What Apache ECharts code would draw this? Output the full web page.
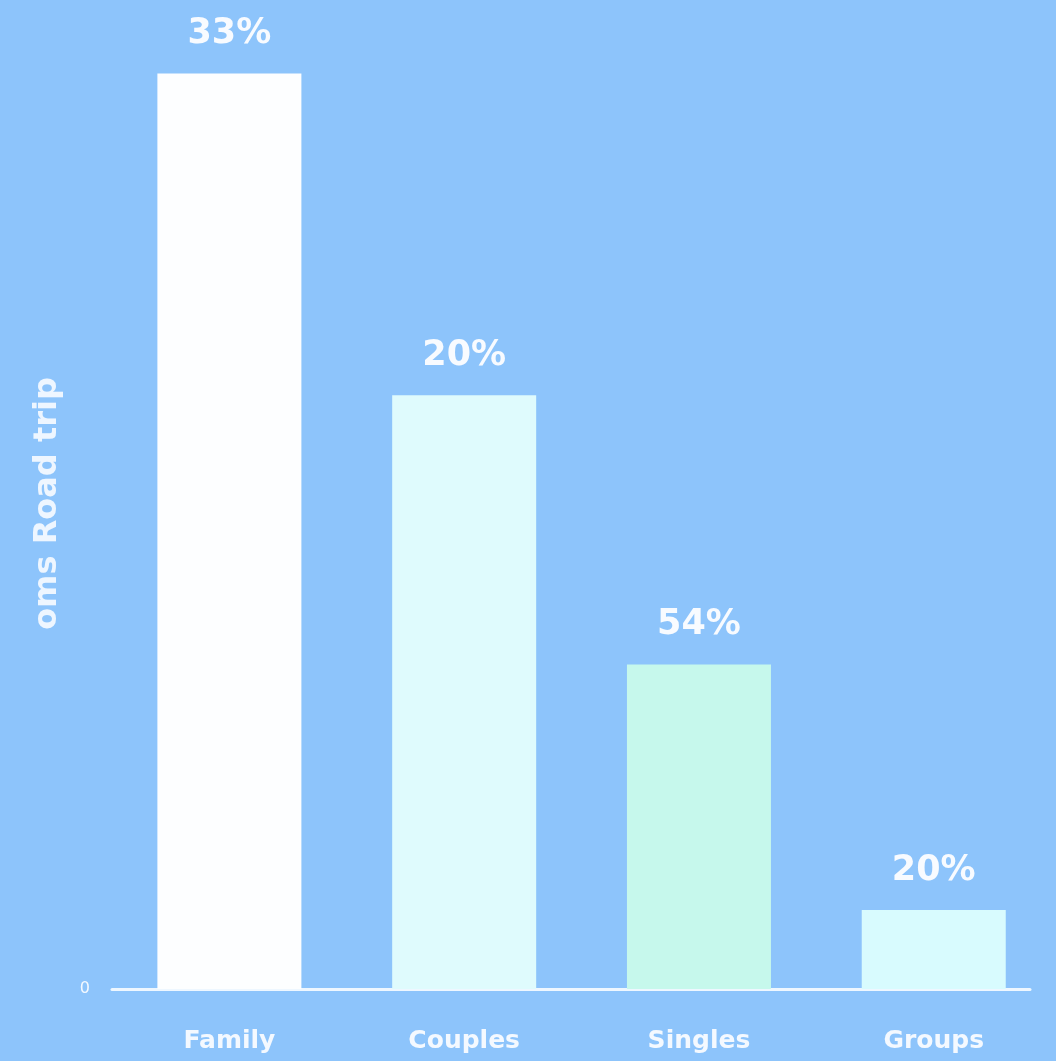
<!DOCTYPE html>
<html>
<head>
<meta charset="utf-8">
<script src="https://cdn.jsdelivr.net/npm/echarts@6/dist/echarts.min.js"></script>
<style>
html,body{margin:0;padding:0;background:#8dc4fb;}
#chart{width:1056px;height:1061px;}
</style>
</head>
<body>
<div id="chart"></div>
<script>
const categories = ["Family", "Couples", "Singles", "Groups"];
const barValues = [33, 21.4, 11.7, 2.85];
const barLabels = ["33%", "20%", "54%", "20%"];
const barColors = ["#fdfeff", "#dffbfd", "#c6f8ec", "#d8fbfe"];
const yAxisName = "oms Road trip";
const yTickValues = [0];

const FONT = "'DejaVu Sans', Verdana, sans-serif";
const chart = echarts.init(document.getElementById('chart'));
chart.setOption({
  backgroundColor: '#8dc4fb',
  animation: false,
  grid: { left: 112, right: 26, top: 18, bottom: 72 },
  xAxis: {
    type: 'value',
    min: -0.5,
    max: 3.41,
    axisLine: { show: true, onZero: false, lineStyle: { color: '#eef7ff', width: 3 } },
    axisTick: { show: false },
    splitLine: { show: false },
    axisLabel: {
      customValues: [0, 1, 2, 3],
      formatter: v => categories[Math.round(v)],
      color: '#f4f9ff',
      fontFamily: FONT,
      fontWeight: 'bold',
      fontSize: 25,
      margin: 40
    }
  },
  yAxis: {
    type: 'value',
    min: 0,
    max: 35,
    name: yAxisName,
    nameLocation: 'middle',
    nameRotate: 90,
    nameGap: 48,
    nameTextStyle: { color: '#eef6ff', fontFamily: FONT, fontWeight: 'bold', fontSize: 32 },
    axisLine: { show: false },
    axisTick: { show: false },
    splitLine: { show: false },
    axisLabel: {
      customValues: yTickValues,
      color: '#f4f9ff',
      fontFamily: FONT,
      fontSize: 16,
      margin: 22
    }
  },
  series: [{
    type: 'bar',
    barWidth: 144,
    data: barValues.map((v, i) => ({
      value: [i, v],
      itemStyle: { color: barColors[i] },
      label: { formatter: barLabels[i] }
    })),
    label: {
      show: true,
      position: 'top',
      distance: 22,
      color: '#f8fbff',
      fontFamily: FONT,
      fontWeight: 'bold',
      fontSize: 35
    }
  }]
});
</script>
</body>
</html>
